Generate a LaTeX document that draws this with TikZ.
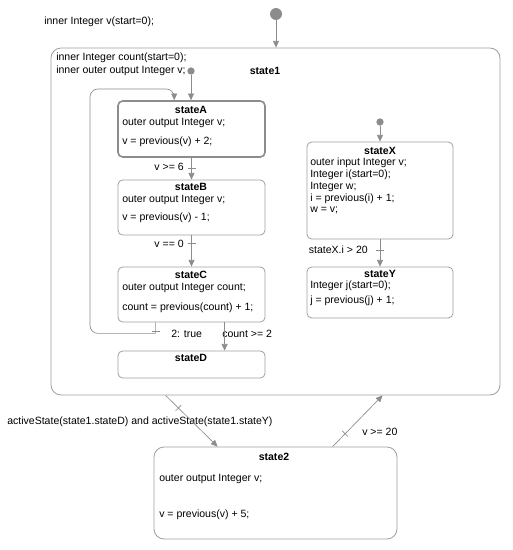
\documentclass[tikz,border=0pt]{standalone}
\usepackage{fontspec}
\setmainfont{Liberation Sans}
\usetikzlibrary{positioning, fit, calc, arrows.meta, decorations.markings}
\definecolor{linegray}{gray}{0.55}
\definecolor{boxgray}{gray}{0.62}
\definecolor{initgray}{gray}{0.55}
\tikzset{
  statebox/.style = {draw = boxgray, rounded corners = 3.5pt, inner sep = 0pt, line width = 0.6pt},
  trans/.style = {draw = linegray, line width = 0.5pt, -{Triangle[length = 5pt, width = 4.5pt]}},
  guard/.style = {postaction = {decorate, decoration = {markings,
    mark = at position #1 with {\draw[-, linegray, line width = 0.5pt] (0,-3pt) -- (0,3pt);}}}},
  initdot/.style = {circle, fill = initgray, inner sep = 0pt, minimum size = #1},
  txt/.style = {anchor = west, inner sep = 0pt, font = \fontsize{7.9}{9.5}\selectfont},
  ttl/.style = {inner sep = 0pt, font = \fontsize{7.9}{9.5}\selectfont\bfseries}
}
\begin{document}
\begin{tikzpicture}[x = 0.75pt, y = -0.75pt]
  \useasboundingbox (0,0) rectangle (513,550);
  \node[initdot = 9pt] (init0) at (276,14) {};
  \node[initdot = 5.5pt] (init1) at (191,71) {};
  \node[initdot = 5.5pt] (init2) at (380,122) {};
  \node[statebox, rounded corners = 7.5pt, fit = {(51,48) (500,395)}] (state1) {};
  \node[statebox, draw = gray!90, line width = 1.2pt, fit = {(118,101) (265,157)}] (stateA) {};
  \node[statebox, fit = {(118,180) (265,235)}] (stateB) {};
  \node[statebox, fit = {(118,267) (265,322)}] (stateC) {};
  \node[statebox, fit = {(118,351) (265,378)}] (stateD) {};
  \node[statebox, fit = {(307,142) (453,239)}] (stateX) {};
  \node[statebox, fit = {(307,267) (453,318)}] (stateY) {};
  \node[statebox, rounded corners = 7.5pt, fit = {(154,447) (397,539)}] (state2) {};

  \node[txt] (v0) at (44,22) {inner Integer v(start=0);};
  \node[txt] (count1) at (56,58) {inner Integer count(start=0);};
  \node[txt] (v1) at (56,71) {inner outer output Integer v;};
  \node[ttl] (t1) at (265,71) {state1};

  \node[ttl] (tA) at (191,110) {stateA};
  \node[txt] (declA) at (122,123) {outer output Integer v;};
  \node[txt] (eqA) at (122,142) {v = previous(v) + 2;};

  \node[ttl] (tB) at (191,187) {stateB};
  \node[txt] (declB) at (122,200) {outer output Integer v;};
  \node[txt] (eqB) at (122,218) {v = previous(v) - 1;};

  \node[ttl] (tC) at (191,275) {stateC};
  \node[txt] (declC) at (122,288) {outer output Integer count;};
  \node[txt] (eqC) at (122,308) {count = previous(count) + 1;};

  \node[ttl] (tD) at (191,358) {stateD};

  \node[ttl] (tX) at (380,151) {stateX};
  \node[txt] (declX1) at (310,163) {outer input Integer v;};
  \node[txt] (declX2) at (310,175) {Integer i(start=0);};
  \node[txt] (declX3) at (310,187) {Integer w;};
  \node[txt] (eqX1) at (310,199) {i = previous(i) + 1;};
  \node[txt] (eqX2) at (310,210) {w = v;};

  \node[ttl] (tY) at (380,274) {stateY};
  \node[txt] (declY) at (310,286) {Integer j(start=0);};
  \node[txt] (eqY) at (310,301) {j = previous(j) + 1;};

  \node[ttl] (t2) at (274,457) {state2};
  \node[txt] (decl2) at (159,479) {outer output Integer v;};
  \node[txt] (eq2) at (159,515) {v = previous(v) + 5;};

  \node[txt, anchor = east] (gAB) at (184,167) {v >= 6};
  \node[txt, anchor = east] (gBC) at (184,244) {v == 0};
  \node[txt] (gCA) at (171,334) {2: true};
  \node[txt] (gCD) at (222,334) {count >= 2};
  \node[txt, anchor = east] (gXY) at (368,250) {stateX.i > 20};
  \node[txt] (g12) at (7,422) {activeState(state1.stateD) and activeState(state1.stateY)};
  \node[txt] (g21) at (362,432) {v >= 20};

  \draw[trans] (init0) -- (init0 |- state1.north);
  \draw[trans] (init1) -- (init1 |- stateA.north);
  \draw[trans] (init2) -- (init2 |- stateX.north);
  \draw[trans, guard = 8pt] (stateA) -- (stateB);
  \draw[trans, guard = 6pt] (stateB) -- (stateC);
  \draw[trans, guard = 8pt] (stateX) -- (stateY);
  \draw[trans] ($(stateC.south west)+(107,0)$) -- ($(stateD.north west)+(107,0)$);
  \draw[trans, guard = 6.75pt] ($(stateC.south west)+(38,0)$) -- ++(0,11)
    [rounded corners = 6pt] -| (90,89) -| ($(stateA.north west)+(57,0)$);
  \draw[trans, guard = 13.5pt] ($(state1.south west)+(115,0)$) -- ($(state2.north west)+(64,0)$);
  \draw[trans, guard = 13.5pt] ($(state2.north west)+(179,0)$) -- ($(state1.south west)+(332,0)$);
\end{tikzpicture}
\end{document}
